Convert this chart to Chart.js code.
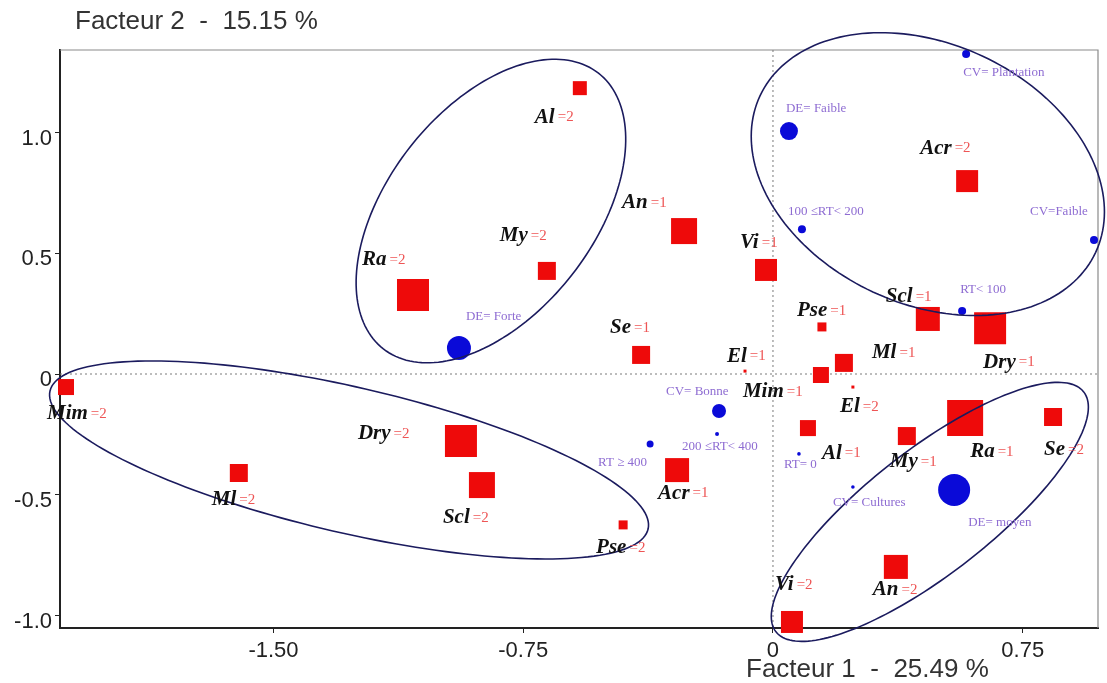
<!DOCTYPE html>
<html>
<head>
<meta charset="utf-8">
<script src="https://cdn.jsdelivr.net/npm/chart.js@4.4.1/dist/chart.umd.min.js"></script>
<style>
    html, body { margin: 0; padding: 0; background: #fff; overflow: hidden; }
    canvas { display: block; }
</style>
</head>
<body>
<canvas id="afc" width="1107" height="683"></canvas>
<script>
// Axis ranges, ticks and labels
const xMin = -2.141, xMax = 0.976;
const yMin = -1.052, yMax = 1.342;
const xTicks = [-1.5, -0.75, 0, 0.75];
const xTickLabels = ['-1.50', '-0.75', '0', '0.75'];
const yTicks = [-1, -0.5, 0, 0.5, 1];
const yTickLabels = ['-1.0', '-0.5', '0', '0.5', '1.0'];
const xTitle = 'Facteur 1  -  25.49 %';
const yTitle = 'Facteur 2  -  15.15 %';

// Active modalities (red squares)
const modNames  = ['Al', 'An', 'My', 'Ra', 'Vi', 'Se', 'El', 'Acr', 'Pse', 'Scl', 'Dry', 'Ml', 'Mim',
                   'El', 'Al', 'My', 'Ra', 'Se', 'An', 'Vi', 'Acr', 'Pse', 'Scl', 'Dry', 'Ml', 'Mim'];
const modLevels = [2, 1, 2, 2, 1, 1, 1, 2, 1, 1, 1, 1, 1,
                   2, 1, 1, 1, 2, 2, 2, 1, 2, 2, 2, 2, 2];
const modX = [-0.58, -0.267, -0.679, -1.081, -0.021, -0.396, -0.084, 0.583, 0.147, 0.465, 0.652, 0.213, 0.144,
              0.24, 0.105, 0.402, 0.577, 0.841, 0.369, 0.057, -0.288, -0.45, -0.874, -0.937, -1.604, -2.123];
const modY = [1.184, 0.592, 0.427, 0.327, 0.431, 0.079, 0.012, 0.799, 0.195, 0.228, 0.19, 0.046, -0.004,
              -0.054, -0.224, -0.257, -0.182, -0.178, -0.799, -1.027, -0.398, -0.625, -0.46, -0.277, -0.41, -0.054];

// Supplementary modalities (blue dots)
const supNames = ['DE= Forte', 'DE= Faible', 'CV= Plantation', '100 \u2264RT< 200', 'CV=Faible', 'RT< 100',
                  'CV= Bonne', '200 \u2264RT< 400', 'RT \u2265 400', 'RT= 0', 'CV= Cultures', 'DE= moyen'];
const supX = [-0.943, 0.048, 0.58, 0.087, 0.964, 0.568, -0.162, -0.168, -0.369, 0.078, 0.24, 0.544];
const supY = [0.108, 1.006, 1.325, 0.6, 0.555, 0.261, -0.153, -0.248, -0.29, -0.331, -0.468, -0.48];

// Marker sizes (px) - square side for red, radius for blue
const modSizes = [14, 26, 18, 32, 22, 18, 3, 22, 9, 24, 32, 18, 16, 3, 16, 18, 36, 18, 24, 22, 24, 9, 26, 32, 18, 16];
const supSizes = [12, 9, 4, 4, 4, 4, 7, 2, 3.5, 1.8, 1.8, 16];

// Label offsets (px) from the marker centre to the label start
const modLabelOff = [[-45, 29], [-62, -28], [-47, -35], [-51, -35], [-26, -27], [-31, -27], [-18, -15],
                     [-47, -33], [-25, -16], [-42, -22], [-7, 34], [28, -10], [-78, 17], [-13, 20],
                     [14, 25], [-17, 26], [5, 34], [-9, 33], [-23, 23], [-17, -37], [-19, 23], [-27, 23],
                     [-39, 33], [-103, -7], [-27, 27], [-19, 27]];
const supLabelOff = [[7, -31], [-3, -23], [-3, 18], [-14, -18], [-64, -28], [-2, -21], [-53, -19],
                     [-35, 13], [-52, 19], [-15, 11], [-20, 16], [14, 33]];

// Group ellipses: centre, major and minor half-axis vectors (data units)
const ellCenters = [[-0.847, 0.675], [0.465, 0.828], [-1.273, -0.356], [0.471, -0.571]];
const ellMajor   = [[0.323, 0.571], [0.504, -0.324], [0.898, -0.286], [0.462, 0.497]];
const ellMinor   = [[0.244, -0.263], [-0.165, -0.488], [-0.049, -0.294], [0.115, -0.202]];

const redPts = modX.map((x, i) => ({ x: x, y: modY[i] }));
const bluePts = supX.map((x, i) => ({ x: x, y: supY[i] }));

// Draws frame, zero lines, ellipses, labels and axis titles.
const afcPlugin = {
    id: 'afcDecor',
    beforeDatasetsDraw(chart) {
        const { ctx, chartArea: a, scales: { x, y } } = chart;
        ctx.save();
        // top + right frame
        ctx.strokeStyle = '#8a8a8a';
        ctx.lineWidth = 1.2;
        ctx.beginPath();
        ctx.moveTo(a.left, a.top); ctx.lineTo(a.right, a.top); ctx.lineTo(a.right, a.bottom);
        ctx.stroke();
        // dotted zero lines
        ctx.strokeStyle = '#7a7a7a';
        ctx.lineWidth = 1;
        ctx.setLineDash([2, 3]);
        const x0 = x.getPixelForValue(0), y0 = y.getPixelForValue(0);
        ctx.beginPath();
        ctx.moveTo(x0, a.top); ctx.lineTo(x0, a.bottom);
        ctx.moveTo(a.left, y0); ctx.lineTo(a.right, y0);
        ctx.stroke();
        ctx.restore();
    },
    afterDatasetsDraw(chart) {
        const { ctx, scales: { x, y } } = chart;
        ctx.save();
        // ellipses
        ctx.strokeStyle = '#1b1b5e';
        ctx.lineWidth = 1.6;
        ellCenters.forEach((c, k) => {
            ctx.beginPath();
            for (let s = 0; s <= 180; s++) {
                const t = s / 180 * Math.PI * 2;
                const vx = c[0] + ellMajor[k][0] * Math.cos(t) + ellMinor[k][0] * Math.sin(t);
                const vy = c[1] + ellMajor[k][1] * Math.cos(t) + ellMinor[k][1] * Math.sin(t);
                const px = x.getPixelForValue(vx), py = y.getPixelForValue(vy);
                if (s === 0) ctx.moveTo(px, py); else ctx.lineTo(px, py);
            }
            ctx.closePath();
            ctx.stroke();
        });
        // red modality labels
        ctx.textBaseline = 'middle';
        ctx.textAlign = 'left';
        modNames.forEach((n, i) => {
            const px = x.getPixelForValue(modX[i]) + modLabelOff[i][0];
            const py = y.getPixelForValue(modY[i]) + modLabelOff[i][1];
            ctx.font = 'bold italic 21px "Liberation Serif"';
            ctx.fillStyle = '#111';
            ctx.fillText(n, px, py);
            const w = ctx.measureText(n).width;
            ctx.font = '15px "Liberation Serif"';
            ctx.fillStyle = '#ee5555';
            ctx.fillText('=' + modLevels[i], px + w + 3, py);
        });
        // blue labels
        ctx.font = '13px "Liberation Serif"';
        ctx.fillStyle = '#8e6cd2';
        supNames.forEach((n, i) => {
            const px = x.getPixelForValue(supX[i]) + supLabelOff[i][0];
            const py = y.getPixelForValue(supY[i]) + supLabelOff[i][1];
            ctx.fillText(n, px, py);
        });
        // axis titles
        ctx.font = '26px "Liberation Sans"';
        ctx.fillStyle = '#333';
        ctx.fillText(yTitle, 75, 22);
        ctx.fillText(xTitle, 746, 670);
        ctx.restore();
    }
};

// Unlabelled ticks at both ends keep Chart.js from reserving label room at the edges.
const isXTick = v => xTicks.indexOf(v) >= 0;

const ctx = document.getElementById('afc').getContext('2d');
new Chart(ctx, {
    type: 'scatter',
    data: {
        datasets: [{
            label: 'Modalités actives',
            data: redPts,
            pointStyle: 'rect',
            pointRadius: modSizes.map(s => s / Math.SQRT2),
            backgroundColor: '#ee0a0a',
            borderColor: '#ee0a0a',
            borderWidth: 0,
            clip: false
        }, {
            label: 'Modalités supplémentaires',
            data: bluePts,
            pointStyle: 'circle',
            pointRadius: supSizes,
            backgroundColor: '#0a0ad8',
            borderColor: '#0a0ad8',
            borderWidth: 0,
            clip: false
        }]
    },
    options: {
        responsive: false,
        animation: false,
        layout: { autoPadding: false, padding: { top: 50, right: 9, left: 0, bottom: 0 } },
        plugins: { legend: { display: false }, tooltip: { enabled: false } },
        scales: {
            x: {
                type: 'linear',
                min: xMin,
                max: xMax,
                afterBuildTicks: s => { s.ticks = [xMin].concat(xTicks, [xMax]).map(v => ({ value: v })); },
                afterFit: s => { s.height = 55; },
                ticks: {
                    callback: v => isXTick(v) ? xTickLabels[xTicks.indexOf(v)] : '',
                    color: '#222',
                    font: { family: 'Liberation Sans', size: 22 },
                    padding: 5,
                    maxRotation: 0
                },
                grid: {
                    drawOnChartArea: false,
                    tickLength: 5,
                    tickColor: c => (c.tick && isXTick(c.tick.value)) ? '#222' : 'rgba(0,0,0,0)'
                },
                border: { display: true, color: '#222', width: 2 }
            },
            y: {
                type: 'linear',
                min: yMin,
                max: yMax,
                afterBuildTicks: s => { s.ticks = yTicks.map(v => ({ value: v })); },
                afterFit: s => { s.width = 60; s.paddingTop = 0; s.paddingBottom = 0; },
                ticks: {
                    callback: (v, i) => yTickLabels[i],
                    color: '#222',
                    font: { family: 'Liberation Sans', size: 22 },
                    padding: 3,
                    labelOffset: 6
                },
                grid: { drawOnChartArea: false, tickLength: 5, color: '#222' },
                border: { display: true, color: '#222', width: 2 }
            }
        }
    },
    plugins: [afcPlugin]
});
</script>
</body>
</html>
